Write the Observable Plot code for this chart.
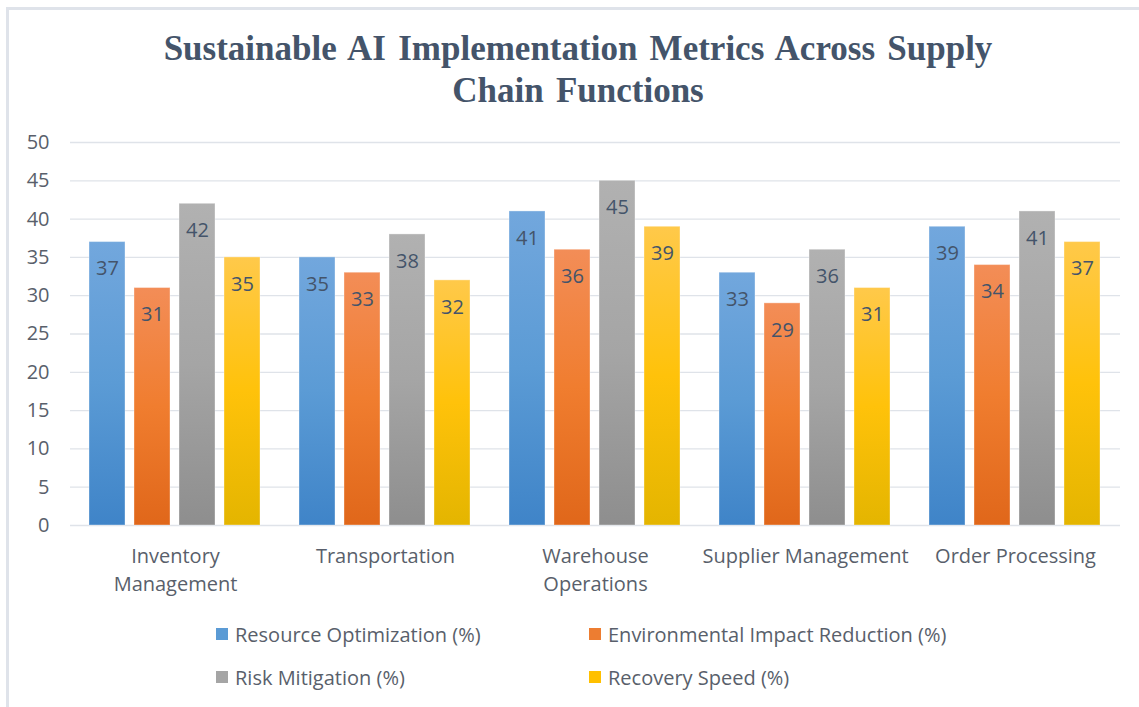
<!DOCTYPE html>
<html>
<head>
<meta charset="utf-8">
<script src="https://cdn.jsdelivr.net/npm/d3@7"></script>
<script src="https://cdn.jsdelivr.net/npm/@observablehq/plot@0.6"></script>
<style>
  html, body { margin: 0; padding: 0; background: #fff; }
  body { width: 1139px; height: 707px; overflow: hidden; position: relative; font-family: "Open Sans", Lato, sans-serif; }
  #frame { position: absolute; left: 6px; top: 7px; right: -10px; bottom: -10px; border-top: 3px solid #dfe3ea; border-left: 3px solid #dfe3ea; pointer-events: none; }
  #title { height: 120px; box-sizing: border-box; padding-top: 28px; padding-left: 17px; text-align: center; font-family: "Liberation Serif", "Times New Roman", serif; font-weight: bold; font-size: 35px; line-height: 42px; letter-spacing: 0px; word-spacing: 3.5px; color: #44546A; }
  #legend { position: relative; height: 102px; font-size: 20px; color: #595f6b; }
  .item { position: absolute; display: flex; align-items: center; white-space: nowrap; }
  .sw { width: 12px; height: 12px; margin-right: 7px; }
</style>
</head>
<body>
<svg width="0" height="0" style="position:absolute">
  <defs>
    <linearGradient id="gBlue" x1="0" y1="0" x2="0" y2="1">
      <stop offset="0" stop-color="#72a7dd"/><stop offset="0.5" stop-color="#5b9bd5"/><stop offset="1" stop-color="#3f84c8"/>
    </linearGradient>
    <linearGradient id="gOrange" x1="0" y1="0" x2="0" y2="1">
      <stop offset="0" stop-color="#f38d57"/><stop offset="0.5" stop-color="#f07d2f"/><stop offset="1" stop-color="#e0671a"/>
    </linearGradient>
    <linearGradient id="gGray" x1="0" y1="0" x2="0" y2="1">
      <stop offset="0" stop-color="#b1b1b1"/><stop offset="0.5" stop-color="#a5a5a5"/><stop offset="1" stop-color="#8e8e8e"/>
    </linearGradient>
    <linearGradient id="gYellow" x1="0" y1="0" x2="0" y2="1">
      <stop offset="0" stop-color="#ffc94a"/><stop offset="0.5" stop-color="#ffc20a"/><stop offset="1" stop-color="#e4b500"/>
    </linearGradient>
  </defs>
</svg>
<div id="frame"></div>
<div id="title">Sustainable AI Implementation Metrics Across Supply<br>Chain Functions</div>
<div id="chart"></div>
<div id="legend"></div>
<script>
const categories = ["Inventory Management", "Transportation", "Warehouse Operations", "Supplier Management", "Order Processing"];
const categoryLabels = ["Inventory\nManagement", "Transportation", "Warehouse\nOperations", "Supplier Management", "Order Processing"];
const seriesNames = ["Resource Optimization (%)", "Environmental Impact Reduction (%)", "Risk Mitigation (%)", "Recovery Speed (%)"];
const resourceOptimization = [37, 35, 41, 33, 39];
const environmentalImpact = [31, 33, 36, 29, 34];
const riskMitigation = [42, 38, 45, 36, 41];
const recoverySpeed = [35, 32, 39, 31, 37];
const yTicks = [0, 5, 10, 15, 20, 25, 30, 35, 40, 45, 50];

const gradients = ["url(#gBlue)", "url(#gOrange)", "url(#gGray)", "url(#gYellow)"];
const swatches = ["#5b9bd5", "#ed7d31", "#a5a5a5", "#ffc000"];

const seriesValues = [resourceOptimization, environmentalImpact, riskMitigation, recoverySpeed];
const data = [];
categories.forEach((c, i) => seriesNames.forEach((s, j) => data.push({category: c, series: s, value: seriesValues[j][i]})));
const labelOf = new Map(categories.map((c, i) => [c, categoryLabels[i]]));

const textColor = "#595f6b";
const chart = Plot.plot({
  width: 1139,
  height: 485,
  marginTop: 22,
  marginBottom: 80,
  marginLeft: 69,
  marginRight: 19,
  style: {fontFamily: "'Open Sans', Lato, sans-serif", color: textColor, background: "transparent"},
  fx: {domain: categories, padding: 0},
  x: {domain: seriesNames, paddingInner: 0.19, paddingOuter: 0.393, axis: null},
  y: {domain: [0, 50], axis: null},
  color: {domain: seriesNames, range: gradients},
  marks: [
    Plot.gridY(yTicks, {stroke: "#dfe3e9", strokeOpacity: 1, strokeWidth: 1.3}),
    Plot.axisY(yTicks, {tickSize: 0, tickPadding: 21, fontSize: 20, fill: textColor, label: null, facetAnchor: "left"}),
    Plot.axisFx({anchor: "bottom", tickSize: 0, tickPadding: 18, fontSize: 20, lineHeight: 1.4, fill: textColor, tickFormat: d => labelOf.get(d), label: null}),
    Plot.barY(data, {fx: "category", x: "series", y: "value", fill: "series", stroke: "#ffffff", strokeOpacity: 0.35, strokeWidth: 1}),
    Plot.text(data, {fx: "category", x: "series", y: "value", text: d => String(d.value), dy: 27, fontSize: 20, fill: "#44546A"})
  ]
});
document.getElementById("chart").appendChild(chart);

const legend = document.getElementById("legend");
const positions = [[216, 29], [589, 29], [216, 72], [589, 72]];
seriesNames.forEach((s, i) => {
  const el = document.createElement("div");
  el.className = "item";
  el.style.left = positions[i][0] + "px";
  el.style.top = (positions[i][1] - 13) + "px";
  el.style.height = "26px";
  const sw = document.createElement("span");
  sw.className = "sw";
  sw.style.background = swatches[i];
  const t = document.createElement("span");
  t.textContent = s;
  el.appendChild(sw); el.appendChild(t);
  legend.appendChild(el);
});
</script>
</body>
</html>
